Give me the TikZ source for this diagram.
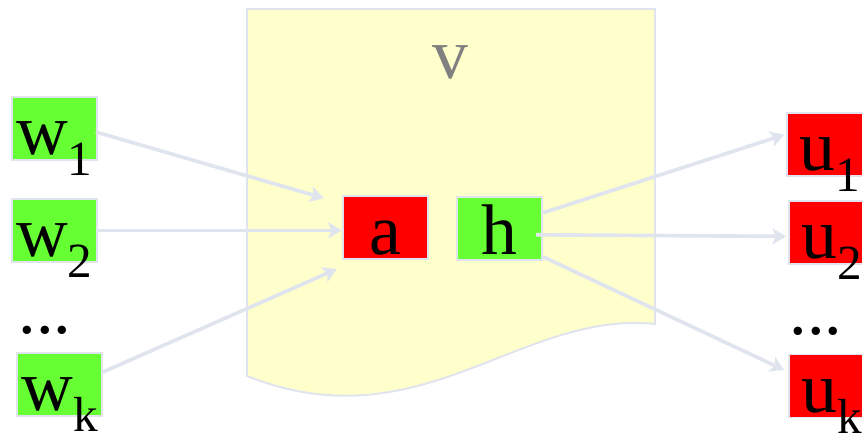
\documentclass[tikz,border=0pt]{standalone}
\usepackage{fontspec}
\setmainfont{Liberation Serif}
\usepackage{tikz}
\usetikzlibrary{arrows.meta, calc, positioning}
\definecolor{vfill}{HTML}{FFFFCC}
\definecolor{vedge}{HTML}{DFE4EE}
\definecolor{ngreen}{HTML}{66FF33}
\definecolor{nred}{HTML}{FF0000}
\definecolor{vgray}{HTML}{808080}
\newcommand{\lowsub}[1]{\raisebox{-15pt}{\fontsize{35}{35}\selectfont #1}}
\tikzset{
  nbox/.style   = {rectangle, draw=vedge, line width=1.4pt, inner sep=0pt,
                   minimum width=2.125cm, text height=1.45cm, text depth=0.125cm,
                   font=\fontsize{51}{51}\selectfont},
  gbox/.style   = {nbox, fill=ngreen},
  rbox/.style   = {nbox, fill=nred},
  dotlab/.style = {inner sep=0pt, anchor=base, font=\fontsize{50}{50}\selectfont},
  flow/.style   = {draw=vedge, line width=2.6pt,
                   -{Stealth[length=3.4mm, width=4mm, inset=0.8mm]}},
}
\begin{document}
\begin{tikzpicture}[x=1cm, y=1cm]
  \useasboundingbox (0,0) rectangle (21.55,10.95);
  % the region v
  \draw[draw=vedge, fill=vfill, line width=1.4pt] (6.175,10.725) -- (16.375,10.725) -- (16.375,2.85)
    .. controls (13.0,3.2) and (10.5,-0.175) .. (6.175,1.55) -- cycle;
  \node[text=vgray, inner sep=0pt, font=\fontsize{51}{51}\selectfont] (v) at (11.25,9.4) {v};
  % inputs
  \node[gbox] (w1) at (1.36,7.74) {w\lowsub{1}};
  \node[gbox] (w2) at (1.36,5.19) {w\lowsub{2}};
  \node[dotlab] (wd) at (1.125,2.6) {...};
  \node[gbox] (wk) at (1.49,1.34) {w\lowsub{k}};
  % inside v
  \node[rbox] (a) at (9.63,5.26) {a};
  \node[gbox] (h) at (12.49,5.24) {h};
  % outputs
  \node[rbox] (u1) at (20.74,7.34) {u\lowsub{1}};
  \node[rbox] (u2) at (20.79,5.14) {u\lowsub{2}};
  \node[dotlab] (ud) at (20.4,2.58) {...};
  \node[rbox] (uk) at (20.79,1.30) {u\lowsub{k}};
  % connectors
  \draw[flow] ($(w1.east)+(-0.05,-0.09)$) -- ($(a.north west)+(-0.45,-0.075)$);
  \draw[flow] (w2.east) -- (w2.east -| a.west);
  \draw[flow] ($(wk.east)+(0,0.31)$) -- ($(a.south west)+(-0.125,-0.225)$);
  \draw[flow] ($(h.east)+(0,0.39)$) -- ($(u1.west)+(-0.05,0.24)$);
  \draw[flow] ($(h.east)+(-0.175,-0.16)$) -- ($(u2.west)+(-0.05,-0.1)$);
  \draw[flow] ($(h.east)+(0,-0.71)$) -- ($(uk.west)+(-0.1,0.4)$);
\end{tikzpicture}
\end{document}
